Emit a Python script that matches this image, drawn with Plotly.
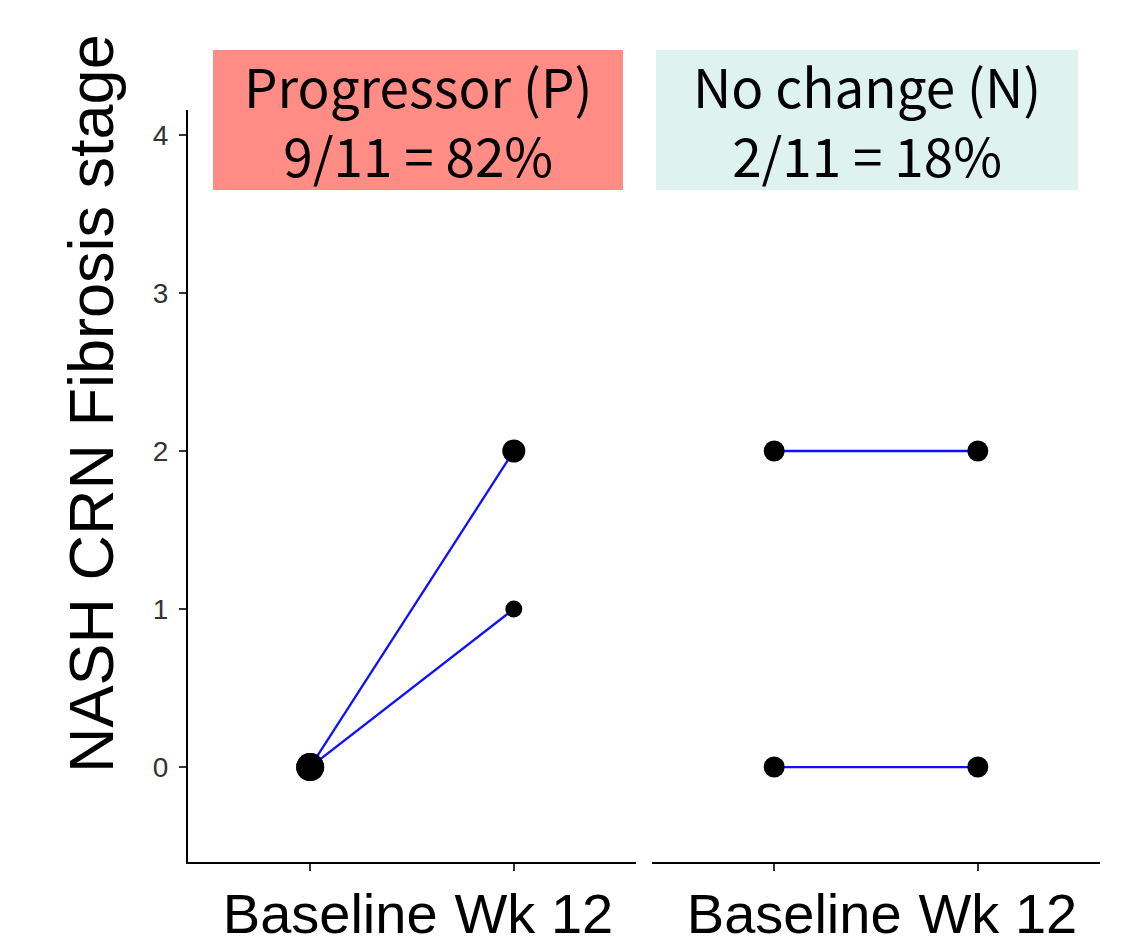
import plotly.graph_objects as go

# ---- data ----
timepoints = ["Baseline", "Wk 12"]
tick_labels = ["Baseline", "Wk 12"]
y_ticks = [0, 1, 2, 3, 4]

# Progressor panel: each patient's baseline -> week 12 stage
prog_baseline = [0, 0]
prog_wk12 = [2, 1]
# No change panel
nochg_baseline = [2, 0]
nochg_wk12 = [2, 0]

panel_titles = ["Progressor (P)<br>9/11 = 82%", "No change (N)<br>2/11 = 18%"]
y_title = "NASH CRN Fibrosis stage"

# ---- style ----
W, H = 1139, 947
OFF = 8  # page body margin
LINE_BLUE = "#0f0fff"
prog_marker_sizes = {"Baseline": [28, 28], "Wk 12": [23, 17]}
nochg_marker_size = 21

def px_x(p):
    return (p - OFF) / W

def px_y(p):
    return 1 - (p - OFF) / H

fig = go.Figure()

def add_panel(base, wk, xa, ya, size_base, size_wk):
    for b, w in zip(base, wk):
        fig.add_trace(go.Scatter(
            x=timepoints, y=[b, w], mode="lines",
            line=dict(color=LINE_BLUE, width=2.3),
            xaxis=xa, yaxis=ya, showlegend=False, hoverinfo="skip"))
    fig.add_trace(go.Scatter(
        x=[timepoints[0]] * len(base), y=base, mode="markers",
        marker=dict(color="black", size=size_base, opacity=1, line=dict(width=0)),
        xaxis=xa, yaxis=ya, showlegend=False, cliponaxis=False))
    fig.add_trace(go.Scatter(
        x=[timepoints[1]] * len(wk), y=wk, mode="markers",
        marker=dict(color="black", size=size_wk, opacity=1, line=dict(width=0)),
        xaxis=xa, yaxis=ya, showlegend=False, cliponaxis=False))

add_panel(prog_baseline, prog_wk12, "x", "y",
          prog_marker_sizes["Baseline"], prog_marker_sizes["Wk 12"])
add_panel(nochg_baseline, nochg_wk12, "x2", "y2",
          nochg_marker_size, nochg_marker_size)

y_dom = [px_y(862), px_y(110)]
y_rng = [-0.601, 4.158]

xaxis_common = dict(
    type="category", categoryorder="array", categoryarray=timepoints,
    tickmode="array", tickvals=timepoints, ticktext=tick_labels,
    range=[-0.6, 1.6], showgrid=False, zeroline=False,
    showline=True, linecolor="black", linewidth=2,
    ticks="outside", ticklen=7, tickwidth=1.5, tickcolor="#333333",
    tickfont=dict(family="Liberation Sans, Arial, sans-serif", size=56, color="black"),
    ticklabelshift=20, ticklabelstandoff=-5, fixedrange=True,
)

fig.update_layout(
    width=W, height=H,
    margin=dict(l=0, r=0, t=0, b=0),
    paper_bgcolor="white", plot_bgcolor="white",
    xaxis=dict(domain=[px_x(188), px_x(636)], anchor="y", **xaxis_common),
    xaxis2=dict(domain=[px_x(652), px_x(1100)], anchor="y2", **xaxis_common),
    yaxis=dict(
        domain=y_dom, range=y_rng, anchor="x",
        tickmode="array", tickvals=y_ticks, ticktext=[str(v) for v in y_ticks],
        showgrid=False, zeroline=False,
        showline=True, linecolor="black", linewidth=2,
        ticks="outside", ticklen=7, tickwidth=1.5, tickcolor="#333333",
        tickfont=dict(family="Liberation Sans, Arial, sans-serif", size=28, color="#333333"),
        ticklabelstandoff=5, fixedrange=True,
    ),
    yaxis2=dict(
        domain=y_dom, range=y_rng, anchor="x2", matches="y",
        showgrid=False, zeroline=False, showline=False,
        showticklabels=False, ticks="", fixedrange=True,
    ),
    showlegend=False,
)

# strip boxes
boxes = [(213, 623, "#FF8C85"), (656, 1078, "#DFF3EE")]
for (x0, x1, col), title in zip(boxes, panel_titles):
    fig.add_shape(type="rect", xref="paper", yref="paper",
                  x0=px_x(x0), x1=px_x(x1), y0=px_y(190), y1=px_y(50),
                  fillcolor=col, line=dict(width=0), layer="below")
    fig.add_annotation(xref="paper", yref="paper",
                       x=px_x((x0 + x1) / 2), y=px_y(120),
                       text=title, showarrow=False, align="center",
                       xanchor="center", yanchor="middle",
                       font=dict(family="Noto Sans CJK KR, Noto Sans, sans-serif",
                                 size=53, color="black"))

fig.add_annotation(xref="paper", yref="paper", x=px_x(91), y=px_y(404),
                   text=y_title, textangle=-90, showarrow=False,
                   xanchor="center", yanchor="middle",
                   font=dict(family="Liberation Sans, Arial, sans-serif", size=63, color="black"))

fig.write_html("out.html")
